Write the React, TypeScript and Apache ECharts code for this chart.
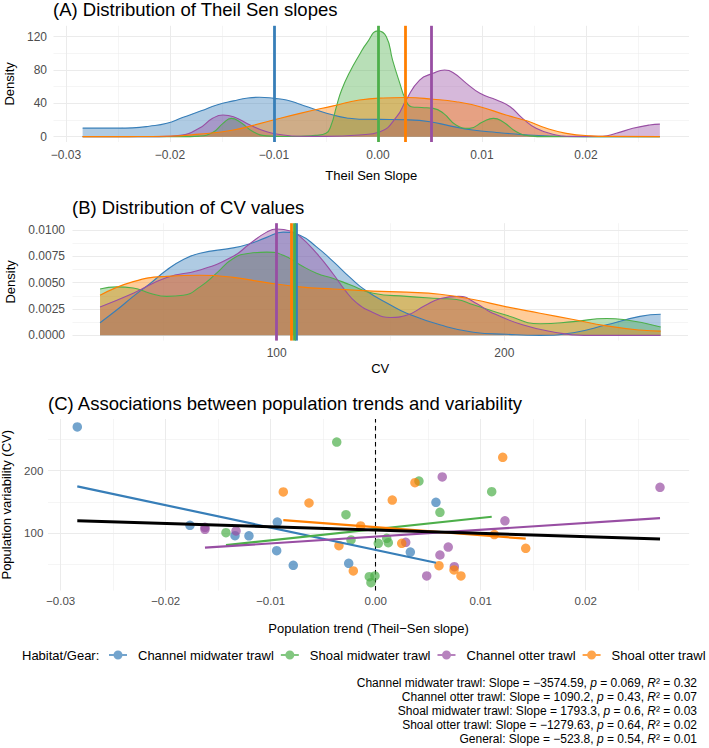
import React, { useEffect, useRef } from "react";
import * as echarts from "echarts";

const FONT = '"Liberation Sans", Arial, Helvetica, sans-serif';

const GROUPS = ["Channel midwater trawl", "Shoal midwater trawl", "Channel otter trawl", "Shoal otter trawl"];
const COLORS = ["#377EB8", "#4DAF4A", "#984EA3", "#FF7F00"];

// ---------- (A) density of Theil–Sen slopes, per habitat/gear ----------
const slopeX_channelMidwater = [-0.0284, -0.025, -0.0236, -0.022, -0.0203, -0.0188, -0.017, -0.0155, -0.0139, -0.0125, -0.0114, -0.01, -0.0088, -0.0075, -0.0059, -0.0043, -0.003, -0.0018, 0.0002, 0.0027, 0.005, 0.0069, 0.0091, 0.0114, 0.0139, 0.0165, 0.02, 0.0271];
const slopeDens_channelMidwater = [10.2, 10.2, 10.6, 12.5, 16, 23, 31, 38, 43, 46.5, 47.3, 46, 44, 39, 32, 26, 22.5, 21, 20.8, 20.3, 18, 13, 8, 5, 2.5, 0.8, 0.1, 0];

const slopeX_shoalMidwater = [-0.0284, -0.019, -0.0172, -0.0159, -0.0149, -0.0141, -0.0133, -0.012, -0.0107, -0.009, -0.0075, -0.006, -0.005, -0.0045, -0.004, -0.0035, -0.0027, -0.0018, -0.0011, 0, 0.0008, 0.0014, 0.0021, 0.0026, 0.0032, 0.0042, 0.0053, 0.0063, 0.0075, 0.0088, 0.0101, 0.0111, 0.012, 0.0133, 0.0146, 0.016, 0.0271];
const slopeDens_shoalMidwater = [0, 0, 0.7, 5, 16, 22, 18, 6, 1, 0.2, 0.5, 1.5, 4, 14, 36, 56, 78, 98, 112, 127, 120, 92, 64, 46, 36, 35, 34, 28, 14, 10, 18, 22, 18, 6, 1, 0, 0];

const slopeX_channelOtter = [-0.0284, -0.022, -0.0203, -0.019, -0.0172, -0.0159, -0.0149, -0.0139, -0.0123, -0.0107, -0.0091, -0.0075, -0.005, -0.0018, 0.0002, 0.0018, 0.0027, 0.004, 0.0053, 0.0064, 0.0072, 0.0085, 0.0098, 0.0114, 0.0127, 0.0139, 0.0152, 0.0168, 0.0187, 0.0216, 0.0229, 0.0245, 0.0261, 0.0271];
const slopeDens_channelOtter = [0, 0.1, 0.4, 1.5, 10, 22, 26, 24, 14, 6, 2, 0.5, 0.3, 2, 6, 24, 44, 68, 76, 80, 77, 64, 52, 44, 36, 22, 10, 3, 0.4, 0.5, 4, 10, 14, 15];

const slopeX_shoalOtter = [-0.0284, -0.024, -0.0203, -0.0172, -0.0139, -0.0107, -0.0075, -0.0043, -0.0018, 0.0005, 0.0027, 0.0053, 0.0075, 0.0098, 0.0123, 0.0143, 0.0162, 0.0181, 0.0204, 0.0223, 0.0271];
const slopeDens_shoalOtter = [0, 0.1, 0.5, 3, 8, 18, 28, 37, 44, 46.5, 47, 45, 42, 36, 26, 19, 10, 4, 1, 0.3, 0];

// group means of the slopes (vertical lines), GROUPS order
const slopeMeans = [-0.00995, 0.0, 0.0051, 0.0026];

// ---------- (B) density of CV values, per habitat/gear ----------
const cvX_channelMidwater = [22.4, 29.7, 37, 44.3, 51.7, 59, 66.3, 80.9, 88.2, 95.6, 102.9, 110.2, 117.5, 124.9, 132.2, 138.8, 149.8, 157.1, 171.7, 186.4, 201, 215.7, 230.3, 245, 259.6, 268.7];
const cvDens_channelMidwater = [0.0012, 0.0024, 0.0037, 0.0049, 0.0062, 0.0072, 0.0078, 0.0083, 0.0087, 0.0093, 0.0098, 0.0095, 0.0084, 0.007, 0.0055, 0.0043, 0.0029, 0.0021, 0.001, 0.0003, 0.0001, 0.0, 0.00025, 0.001, 0.0018, 0.002];

const cvX_shoalMidwater = [22.4, 29.7, 37, 44.3, 51.7, 59, 66.3, 73.6, 80.9, 88.2, 95.6, 102.9, 110.2, 117.5, 124.9, 132.2, 142.4, 157.1, 171.7, 179, 186.4, 201, 215.7, 230.3, 245, 252.3, 268.7];
const cvDens_shoalMidwater = [0.0044, 0.0046, 0.0045, 0.004, 0.0037, 0.0038, 0.0046, 0.0059, 0.0073, 0.0078, 0.0079, 0.0076, 0.0067, 0.0059, 0.0054, 0.0048, 0.004, 0.0037, 0.0035, 0.0034, 0.0029, 0.0019, 0.0011, 0.0013, 0.0016, 0.0015, 0.0008];

const cvX_channelOtter = [22.4, 37, 51.7, 66.3, 80.9, 88.2, 95.6, 100, 106, 110.2, 117.5, 124.9, 130, 135, 142, 150, 157, 165, 172, 180, 188, 194, 208, 222, 235, 268.7];
const cvDens_channelOtter = [0.0027, 0.004, 0.0055, 0.0062, 0.0075, 0.0087, 0.0098, 0.0101, 0.0099, 0.0094, 0.0078, 0.0058, 0.0043, 0.0031, 0.0022, 0.0017, 0.0019, 0.0028, 0.0035, 0.0037, 0.003, 0.0022, 0.001, 0.0003, 0.0, 0.0];

const cvX_shoalOtter = [22.4, 37, 51.7, 66.3, 80.9, 95.6, 110.2, 124.9, 142.4, 157.1, 171.7, 186.4, 201, 215.7, 230.3, 245, 259.6, 268.7];
const cvDens_shoalOtter = [0.0038, 0.0051, 0.0056, 0.0057, 0.0055, 0.005, 0.0046, 0.0044, 0.0042, 0.0041, 0.0039, 0.0034, 0.0027, 0.0021, 0.0015, 0.0009, 0.0005, 0.0004];

// group means of CV (vertical lines), GROUPS order
const cvMeans = [108.8, 107.6, 100.0, 106.3];

// ---------- (C) population trend vs variability ----------
const trend_channelMidwater = [-0.02842, -0.01769, -0.0134, -0.01207, -0.00937, -0.00943, -0.00785, -0.00257, 0.00574, 0.0033];
const cv_channelMidwater = [270.0, 112.8, 96.2, 96.0, 118.0, 72.2, 48.9, 52.0, 149.5, 70.0];

const trend_shoalMidwater = [-0.01426, -0.00371, -0.00283, -0.00235, -0.00061, -0.00045, -0.00007, 0.00025, 0.00105, 0.0012, 0.00412, 0.00612, 0.01105];
const cv_shoalMidwater = [101.0, 245.8, 129.7, 89.3, 30.7, 21.0, 31.8, 84.0, 92.0, 85.0, 183.5, 133.5, 166.5];

const trend_channelOtter = [-0.01626, -0.01626, -0.0133, 0.00286, 0.00486, 0.00612, 0.00634, 0.00691, 0.00749, 0.01231, 0.02708];
const cv_channelOtter = [109.6, 106.4, 103.7, 85.6, 31.8, 65.3, 190.0, 78.0, 46.7, 120.0, 173.5];

const trend_shoalOtter = [-0.0088, -0.00635, -0.0035, -0.00213, -0.00143, 0.00158, 0.00248, 0.00374, 0.00603, 0.00746, 0.00812, 0.0113, 0.0121, 0.01429];
const cv_shoalOtter = [166.0, 148.4, 80.2, 39.8, 111.7, 153.0, 84.0, 180.8, 48.2, 41.4, 31.8, 98.0, 221.4, 76.0];

// linear fits (GROUPS order) and the pooled fit
const fitSlope = [-3574.59, 1793.3, 1090.2, -1279.63];
const fitIntercept = [73.4, 106.6, 94.7, 109.7];
const fitP = ["0.069", "0.6", "0.43", "0.64"];
const fitR2 = ["0.32", "0.03", "0.07", "0.02"];
const generalSlope = -523.8;
const generalIntercept = 105.1;
const generalP = "0.54";
const generalR2 = "0.01";

// ---------- axis ticks ----------
const slopeTicks = [-0.03, -0.02, -0.01, 0, 0.01, 0.02];
const slopeMinorTicks = [-0.025, -0.015, -0.005, 0.005, 0.015, 0.025];
const densTicksA = [0, 40, 80, 120];
const densMinorA = [20, 60, 100];
const cvTicks = [100, 200];
const cvMinorTicks = [50, 150, 250];
const densTicksB = [0, 0.0025, 0.005, 0.0075, 0.01];
const densMinorB = [0.00125, 0.00375, 0.00625, 0.00875];

const slopeXs = [slopeX_channelMidwater, slopeX_shoalMidwater, slopeX_channelOtter, slopeX_shoalOtter];
const slopeDens = [slopeDens_channelMidwater, slopeDens_shoalMidwater, slopeDens_channelOtter, slopeDens_shoalOtter];
const cvXs = [cvX_channelMidwater, cvX_shoalMidwater, cvX_channelOtter, cvX_shoalOtter];
const cvDens = [cvDens_channelMidwater, cvDens_shoalMidwater, cvDens_channelOtter, cvDens_shoalOtter];
const trends = [trend_channelMidwater, trend_shoalMidwater, trend_channelOtter, trend_shoalOtter];
const cvs = [cv_channelMidwater, cv_shoalMidwater, cv_channelOtter, cv_shoalOtter];

const LEGEND_ICON =
  "path://M0,3.5H18V5.5H0Z M4.5,4.5A4.5,4.5,0,1,1,13.5,4.5A4.5,4.5,0,1,1,4.5,4.5Z";

const minus = (s: string) => s.replace("-", "\u2212");
const fmtSigned = (v: number, digits?: number) =>
  (v < -1e-12 ? "\u2212" : "") + (digits == null ? String(Math.abs(v)) : Math.abs(v).toFixed(digits));

// vertical / horizontal reference lines drawn through the axis scales
function refLines(gi: number, z: number, data: any[]) {
  return {
    type: "line",
    xAxisIndex: gi,
    yAxisIndex: gi,
    data: [],
    silent: true,
    z,
    markLine: {
      silent: true,
      z,
      precision: 10,
      symbol: ["none", "none"],
      label: { show: false },
      emphasis: { disabled: true },
      data,
    },
  };
}

function gridLines(gi: number, xMajor: number[], xMinor: number[], yMajor: number[], yMinor: number[]) {
  const major = { color: "#EBEBEB", width: 1, type: "solid" };
  const minor = { color: "#EDEDED", width: 0.55, type: "solid" };
  return refLines(gi, 0, [
    ...xMinor.map((v) => ({ xAxis: v, lineStyle: minor })),
    ...yMinor.map((v) => ({ yAxis: v, lineStyle: minor })),
    ...xMajor.map((v) => ({ xAxis: v, lineStyle: major })),
    ...yMajor.map((v) => ({ yAxis: v, lineStyle: major })),
  ]);
}

function meanLines(gi: number, means: number[]) {
  return refLines(
    gi,
    6,
    means.map((m, i) => ({ xAxis: m, lineStyle: { color: COLORS[i], width: 2.8, type: "solid", opacity: 1 } }))
  );
}

function densitySeries(gi: number, xs: number[], ys: number[], i: number) {
  return {
    type: "line",
    xAxisIndex: gi,
    yAxisIndex: gi,
    data: xs.map((x, k) => [x, ys[k]]),
    smooth: 0.5,
    symbol: "none",
    showSymbol: false,
    silent: true,
    z: 2,
    lineStyle: { color: COLORS[i], width: 1.1 },
    itemStyle: { color: COLORS[i] },
    areaStyle: { color: COLORS[i], opacity: 0.4 },
  };
}

const axisLabelStyle = { color: "#4D4D4D", fontSize: 12, fontFamily: FONT };
const axisNameStyle = { color: "#000", fontSize: 13, fontFamily: FONT };
const hidden = {
  axisLine: { show: false },
  axisTick: { show: false },
  splitLine: { show: false },
  minorSplitLine: { show: false },
};

function buildOption() {
  const series: any[] = [];

  // panel grids
  series.push(gridLines(0, slopeTicks, slopeMinorTicks, densTicksA, densMinorA));
  series.push(gridLines(1, cvTicks, cvMinorTicks, densTicksB, densMinorB));
  series.push(gridLines(2, slopeTicks, slopeMinorTicks, cvTicks, cvMinorTicks));

  // (A) and (B) densities with group means
  GROUPS.forEach((_, i) => series.push(densitySeries(0, slopeXs[i], slopeDens[i], i)));
  series.push(meanLines(0, slopeMeans));
  GROUPS.forEach((_, i) => series.push(densitySeries(1, cvXs[i], cvDens[i], i)));
  series.push(meanLines(1, cvMeans));

  // (C) zero-trend reference
  series.push(refLines(2, 1, [{ xAxis: 0, lineStyle: { color: "#000", width: 1.1, type: [4.5, 3.5] } }]));

  // (C) points
  GROUPS.forEach((name, i) => {
    series.push({
      type: "scatter",
      name,
      xAxisIndex: 2,
      yAxisIndex: 2,
      data: trends[i].map((x, k) => [x, cvs[i][k]]),
      symbolSize: 9.5,
      itemStyle: { color: COLORS[i], opacity: 0.7 },
      silent: true,
      z: 2,
    });
  });

  // (C) per-group fits over each group's trend range
  GROUPS.forEach((_, i) => {
    const lo = Math.min(...trends[i]);
    const hi = Math.max(...trends[i]);
    series.push({
      type: "line",
      xAxisIndex: 2,
      yAxisIndex: 2,
      data: [
        [lo, fitIntercept[i] + fitSlope[i] * lo],
        [hi, fitIntercept[i] + fitSlope[i] * hi],
      ],
      symbol: "none",
      silent: true,
      z: 3,
      lineStyle: { color: COLORS[i], width: 2.2 },
    });
  });

  // (C) pooled fit
  const allTrends = trends.flat();
  const gLo = Math.min(...allTrends);
  const gHi = Math.max(...allTrends);
  series.push({
    type: "line",
    xAxisIndex: 2,
    yAxisIndex: 2,
    data: [
      [gLo, generalIntercept + generalSlope * gLo],
      [gHi, generalIntercept + generalSlope * gHi],
    ],
    symbol: "none",
    silent: true,
    z: 4,
    lineStyle: { color: "#000", width: 3 },
  });

  // fit summaries
  const order = [0, 2, 1, 3];
  const summary = order.map(
    (i) => `${GROUPS[i]}: Slope = ${fmtSigned(fitSlope[i])}, {i|p} = ${fitP[i]}, {i|R}\u00B2 = ${fitR2[i]}`
  );
  summary.push(`General: Slope = ${fmtSigned(generalSlope)}, {i|p} = ${generalP}, {i|R}\u00B2 = ${generalR2}`);

  const graphic: any[] = [
    {
      type: "text",
      x: 22,
      y: 655,
      silent: true,
      style: { text: "Habitat/Gear:", fontSize: 13, fontFamily: FONT, fill: "#000", align: "left", verticalAlign: "middle" },
    },
    ...summary.map((t, k) => ({
      type: "text",
      x: 697,
      y: 683 + k * 14,
      silent: true,
      style: {
        text: t,
        fontSize: 12,
        fontFamily: FONT,
        fill: "#000",
        align: "right",
        verticalAlign: "middle",
        rich: { i: { fontStyle: "italic", fontSize: 12, fontFamily: FONT, fill: "#000" } },
      },
    })),
  ];

  const titleStyle = { fontSize: 18.5, fontWeight: "normal", color: "#000", fontFamily: FONT };

  return {
    animation: false,
    backgroundColor: "#fff",
    textStyle: { fontFamily: FONT },
    title: [
      { text: "(A) Distribution of Theil Sen slopes", left: 53, top: 0, padding: 0, textStyle: titleStyle },
      { text: "(B) Distribution of CV values", left: 72, top: 198, padding: 0, textStyle: titleStyle },
      { text: "(C) Associations between population trends and variability", left: 48, top: 394, padding: 0, textStyle: titleStyle },
    ],
    grid: [
      { left: 53.5, top: 25.8, width: 635.5, height: 116.2, outerBoundsMode: "none" },
      { left: 72.5, top: 223.2, width: 615.5, height: 117.4, outerBoundsMode: "none" },
      { left: 48, top: 419, width: 641.2, height: 171.5, outerBoundsMode: "none" },
    ],
    xAxis: [
      {
        type: "value",
        gridIndex: 0,
        min: -0.0312,
        max: 0.0299,
        ...hidden,
        axisLabel: { ...axisLabelStyle, margin: 7, customValues: slopeTicks, formatter: (v: number) => fmtSigned(v, 2) },
        name: "Theil Sen Slope",
        nameLocation: "middle",
        nameGap: 26.5,
        nameTextStyle: axisNameStyle,
      },
      {
        type: "value",
        gridIndex: 1,
        min: 10.3,
        max: 280.7,
        ...hidden,
        axisLabel: { ...axisLabelStyle, margin: 6, customValues: cvTicks, formatter: (v: number) => String(Math.round(v)) },
        name: "CV",
        nameLocation: "middle",
        nameGap: 21,
        nameTextStyle: axisNameStyle,
      },
      {
        type: "value",
        gridIndex: 2,
        min: -0.03121,
        max: 0.02986,
        ...hidden,
        axisLabel: { ...axisLabelStyle, fontSize: 11.5, margin: 4.5, customValues: slopeTicks, formatter: (v: number) => fmtSigned(v, 2) },
        name: minus("Population trend (Theil-Sen slope)"),
        nameLocation: "middle",
        nameGap: 31,
        nameTextStyle: axisNameStyle,
      },
    ],
    yAxis: [
      {
        type: "value",
        gridIndex: 0,
        min: -6.4,
        max: 133.1,
        ...hidden,
        axisLabel: { ...axisLabelStyle, margin: 6.5, customValues: densTicksA, formatter: (v: number) => String(Math.round(v)) },
        name: "Density",
        nameLocation: "middle",
        nameGap: 32,
        nameTextStyle: axisNameStyle,
      },
      {
        type: "value",
        gridIndex: 1,
        min: -0.0005,
        max: 0.010646,
        ...hidden,
        axisLabel: { ...axisLabelStyle, margin: 7.5, customValues: densTicksB, formatter: (v: number) => v.toFixed(4) },
        name: "Density",
        nameLocation: "middle",
        nameGap: 51,
        nameTextStyle: axisNameStyle,
      },
      {
        type: "value",
        gridIndex: 2,
        min: 8.6,
        max: 282.6,
        ...hidden,
        axisLabel: { ...axisLabelStyle, fontSize: 11.5, margin: 4.7, customValues: cvTicks, formatter: (v: number) => String(Math.round(v)) },
        name: "Population variability (CV)",
        nameLocation: "middle",
        nameGap: 34,
        nameTextStyle: axisNameStyle,
      },
    ],
    legend: {
      data: GROUPS.map((name) => ({ name, icon: LEGEND_ICON })),
      left: 109,
      top: 648.5,
      orient: "horizontal",
      padding: 0,
      itemWidth: 18,
      itemHeight: 9,
      itemGap: 7,
      selectedMode: false,
      textStyle: { fontSize: 13, color: "#000", fontFamily: FONT, padding: [0, 0, 0, 6] },
    },
    graphic,
    series,
  };
}

export default function App() {
  const ref = useRef<HTMLDivElement>(null);
  useEffect(() => {
    if (!ref.current) return;
    const chart = echarts.init(ref.current, null, { renderer: "svg" });
    chart.setOption(buildOption() as any);
    return () => chart.dispose();
  }, []);
  return (
    <div
      ref={ref}
      style={{ position: "fixed", left: 0, top: 0, width: 709, height: 748, background: "#fff" }}
    />
  );
}
